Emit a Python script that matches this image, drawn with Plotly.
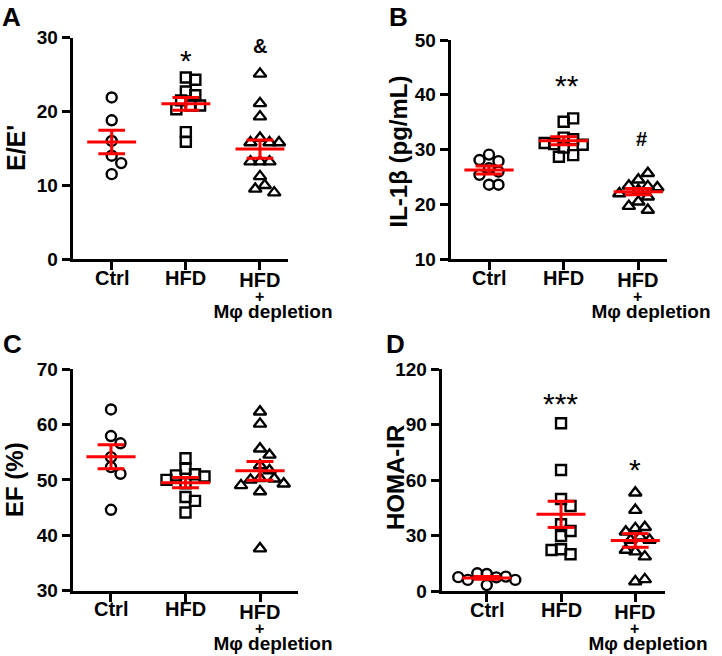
import numpy as np
import plotly.graph_objects as go

W, H = 722, 656

groups = ["Ctrl", "HFD", "HFD+Mφ depletion"]

# Panel A: E/E'
A_ctrl = [21.9, 18.8, 16.0, 14.0, 13.0, 11.5]
A_hfd = [24.6, 24.3, 22.7, 22.2, 21.5, 20.8, 20.3, 20.8, 17.2, 15.9]
A_dep = [25.1, 21.1, 19.3, 16.4, 15.8, 15.8, 15.8, 13.2, 13.2, 13.2, 11.2, 10.0, 9.5, 9.0]

# Panel B: IL-1beta (pg/mL)
B_ctrl = [29.1, 27.9, 28.1, 26.6, 26.0, 25.4, 23.6, 23.6]
B_hfd = [35.1, 35.7, 30.4, 31.9, 31.0, 29.0, 28.7, 30.9, 31.2, 32.2]
B_dep = [24.5, 25.7, 23.3, 23.4, 23.1, 22.6, 21.4, 22.0, 20.5, 19.0, 19.7, 22.8]

# Panel C: EF (%)
C_ctrl = [62.7, 57.9, 56.6, 54.1, 52.3, 51.1, 44.6]
C_hfd = [53.9, 52.0, 51.0, 50.8, 50.6, 49.4, 50.0, 46.9, 46.2, 44.1]
C_dep = [62.3, 60.1, 55.6, 54.5, 52.6, 51.7, 50.3, 50.0, 50.2, 49.0, 47.9, 49.3, 37.6]

# Panel D: HOMA-IR
D_ctrl = [9.2, 7.4, 9.6, 7.8, 6.0, 6.0, 3.2, 7.5]
D_hfd = [90.8, 65.5, 49.8, 46.0, 36.1, 32.5, 29.8, 22.6, 19.9, 22.2]
D_dep = [53.2, 43.8, 33.9, 34.5, 32.1, 29.4, 27.6, 21.3, 18.6, 22.2, 27.6, 5.1, 6.3]

A_ticks = [0, 10, 20, 30]
B_ticks = [10, 20, 30, 40, 50]
C_ticks = [30, 40, 50, 60, 70]
D_ticks = [0, 30, 60, 90, 120]

titles = ["E/E'", "IL-1β (pg/mL)", "EF (%)", "HOMA-IR"]
letters = ["A", "B", "C", "D"]
sig_A = ["", "*", "&"]
sig_B = ["", "**", "#"]
sig_C = ["", "", ""]
sig_D = ["", "***", "*"]

FONT = "Arial, 'Liberation Sans', sans-serif"

panels = [
    dict(data=[A_ctrl, A_hfd, A_dep], ticks=A_ticks, px=(72.7, 288.0), py=(37.7, 259.0),
         xr=(-0.526, 2.378), title=titles[0], tsize=25, tpos=(0, 148), tleft=True,
         letter=letters[0], lpos=(11, 0), ltop=True,
         sig=sig_A, sigpos=[None, (186, 53), (260, 46)]),
    dict(data=[B_ctrl, B_hfd, B_dep], ticks=B_ticks, px=(450.7, 666.7), py=(40.0, 259.3),
         xr=(-0.513, 2.38), title=titles[1], tsize=24, tpos=(397.5, 152), tleft=False,
         letter=letters[1], lpos=(398.5, 0), ltop=True,
         sig=sig_B, sigpos=[None, (567, 79), (641, 139)]),
    dict(data=[C_ctrl, C_hfd, C_dep], ticks=C_ticks, px=(72.7, 297.7), py=(369.0, 590.7),
         xr=(-0.514, 2.506), title=titles[2], tsize=24, tpos=(14, 480), tleft=False,
         letter=letters[2], lpos=(12.5, 344), ltop=False,
         sig=sig_C, sigpos=[None, None, None]),
    dict(data=[D_ctrl, D_hfd, D_dep], ticks=D_ticks, px=(441.7, 665.0), py=(369.3, 591.0),
         xr=(-0.607, 2.40), title=titles[3], tsize=24, tpos=(395, 478), tleft=False,
         letter=letters[3], lpos=(395, 344), ltop=False,
         sig=sig_D, sigpos=[None, (560, 396), (635, 462)]),
]

symbols = ["circle-open", "square-open", "triangle-up-open"]
msizes = [10, 10, 11]


def swarm(vals, xppu, yppu, d=9.5):
    placed = []
    offs = []
    step = d / 2.0
    cands = [0.0]
    for j in range(1, 30):
        cands += [j * step, -j * step]
    for v in vals:
        py = v * yppu
        chosen = 0.0
        for c in cands:
            if all((c - qx) ** 2 + (py - qy) ** 2 >= d * d for qx, qy in placed):
                chosen = c
                break
        placed.append((chosen, py))
        offs.append(chosen / xppu)
    return offs


def fx(px):
    return px / W


def fy(py):
    return 1 - py / H


fig = go.Figure()
annotations = []

for i, p in enumerate(panels):
    xa = "x" if i == 0 else f"x{i+1}"
    ya = "y" if i == 0 else f"y{i+1}"
    yr = (p["ticks"][0], p["ticks"][-1])
    xppu = (p["px"][1] - p["px"][0]) / (p["xr"][1] - p["xr"][0])
    yppu = (p["py"][1] - p["py"][0]) / (yr[1] - yr[0])

    for g, vals in enumerate(p["data"]):
        offs = swarm(vals, xppu, yppu)
        fig.add_trace(go.Scatter(
            x=[g + o for o in offs], y=vals, mode="markers", xaxis=xa, yaxis=ya,
            marker=dict(symbol=symbols[g], size=msizes[g], color="black",
                        line=dict(width=2.4, color="black")),
            cliponaxis=False, showlegend=False, hoverinfo="y"))

    for g, vals in enumerate(p["data"]):
        arr = np.array(vals)
        m = arr.mean()
        sem = arr.std(ddof=1) / np.sqrt(len(arr))
        xs = [g - 0.33, g + 0.33, None, g - 0.18, g + 0.18, None,
              g - 0.18, g + 0.18, None, g, g]
        ys = [m, m, None, m + sem, m + sem, None, m - sem, m - sem, None, m - sem, m + sem]
        fig.add_trace(go.Scatter(
            x=xs, y=ys, mode="lines", xaxis=xa, yaxis=ya,
            line=dict(color="#ff0000", width=3), cliponaxis=False,
            showlegend=False, hoverinfo="skip"))

    axis_common = dict(showline=True, linewidth=3, linecolor="black", showgrid=False,
                       zeroline=False, ticks="outside", ticklen=8, tickwidth=2.5,
                       tickcolor="black", automargin=False)
    fig.update_layout(**{
        ("xaxis" if i == 0 else f"xaxis{i+1}"): dict(
            domain=[fx(p["px"][0]), fx(p["px"][1])], range=list(p["xr"]),
            tickvals=[0, 1, 2], showticklabels=False, anchor=ya, **axis_common),
        ("yaxis" if i == 0 else f"yaxis{i+1}"): dict(
            domain=[fy(p["py"][1]), fy(p["py"][0])], range=list(yr),
            tickvals=p["ticks"], anchor=xa,
            tickfont=dict(family=FONT, size=19, color="black", weight="bold"),
            **axis_common),
    })

    # panel letter
    annotations.append(dict(text="<b>" + p["letter"] + "</b>", x=fx(p["lpos"][0]),
                            y=fy(p["lpos"][1]), xref="paper", yref="paper",
                            showarrow=False, font=dict(family=FONT, size=26, color="black"),
                            xanchor="center", yanchor="top" if p["ltop"] else "middle"))
    # y title
    annotations.append(dict(text="<b>" + p["title"] + "</b>", x=fx(p["tpos"][0]),
                            y=fy(p["tpos"][1]), xref="paper", yref="paper", textangle=-90,
                            showarrow=False,
                            font=dict(family=FONT, size=p["tsize"], color="black"),
                            xanchor="left" if p["tleft"] else "center", yanchor="middle"))
    # category labels
    ybase = p["py"][1]
    for g in range(2):
        annotations.append(dict(text="<b>" + groups[g] + "</b>", x=g, xref=xa,
                                y=fy(ybase + 18.5), yref="paper", showarrow=False,
                                font=dict(family=FONT, size=20, color="black"),
                                xanchor="center", yanchor="middle"))
    parts = groups[2].split("+")
    pad = "\u00a0" * 5
    dep_text = ("<b><span style='font-size:20px'>" + parts[0] + "</span><br>"
                "<span style='font-size:16px'>+</span><br>"
                "<span style='font-size:19px'>" + pad + parts[1] + "</span></b>")
    annotations.append(dict(text=dep_text, x=2, xref=xa, y=fy(ybase + 8), yref="paper",
                            showarrow=False, align="center",
                            font=dict(family=FONT, size=11.8, color="black"),
                            xanchor="center", yanchor="top"))
    # significance
    for g, s in enumerate(p["sig"]):
        if s and p["sigpos"][g] is not None:
            sx, sy = p["sigpos"][g]
            fs = 20 if s in ("&", "#") else 30
            annotations.append(dict(text="<b>" + s + "</b>" if s in ("&", "#") else s,
                                    x=fx(sx), y=fy(sy), xref="paper", yref="paper",
                                    showarrow=False,
                                    font=dict(family=FONT, size=fs, color="black"),
                                    xanchor="center", yanchor="middle",
                                    yshift=-7 if s not in ("&", "#") else 0))

fig.update_layout(width=W, height=H, margin=dict(l=0, r=0, t=0, b=0, autoexpand=False),
                  paper_bgcolor="white", plot_bgcolor="white",
                  annotations=annotations, showlegend=False)

fig.write_html("out.html", config={"displayModeBar": False},
               post_script="document.body.style.margin='0';")
